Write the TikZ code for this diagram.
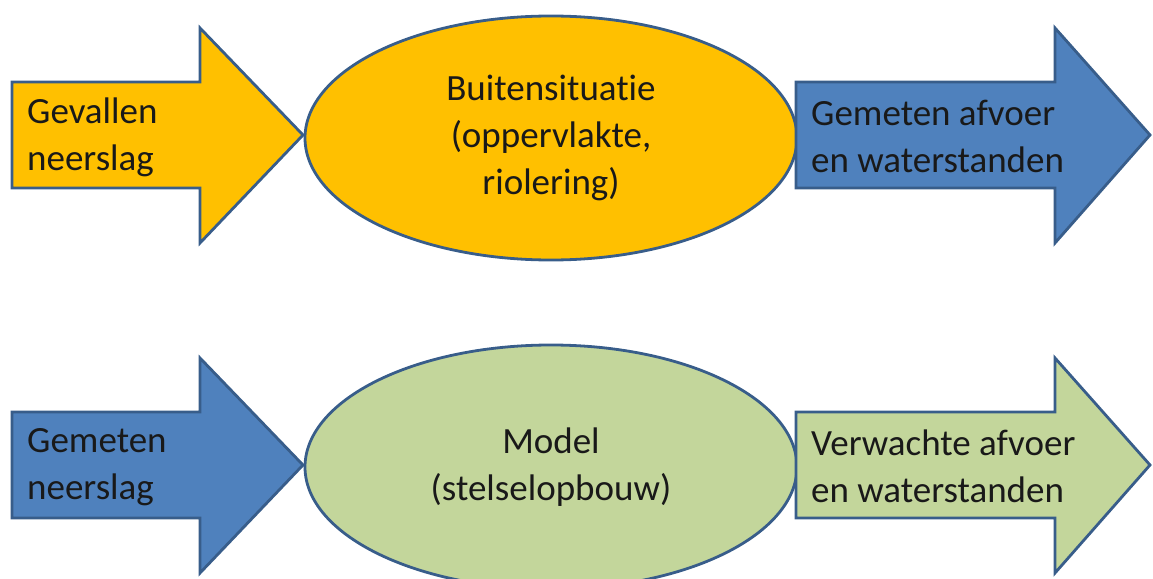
\documentclass[tikz,border=0pt]{standalone}
\usepackage{fontspec}
\setmainfont{Carlito}[RawFeature=-liga]
\usetikzlibrary{shapes.geometric}

\definecolor{edgeblue}{HTML}{385D8A}
\definecolor{fillyellow}{HTML}{FFC000}
\definecolor{fillblue}{HTML}{4F81BD}
\definecolor{fillgreen}{HTML}{C3D69B}

\begin{document}
\begin{tikzpicture}[x=1pt, y=-1pt,
    flow/.style={draw=edgeblue, line width=2.8pt, line join=miter},
    stage/.style={ellipse, flow, minimum width=492pt, minimum height=244pt,
      inner sep=0pt, align=center, font=\fontsize{37}{47}\selectfont},
    label/.style={anchor=west, inner sep=0pt, align=left,
      font=\fontsize{37}{47}\selectfont}]
\useasboundingbox (0,0) rectangle (1153,578);
\tikzset{every node/.append style={text=black!90}}
% top row: werkelijkheid
\draw[flow, fill=fillyellow] (12,82) -- (200,82) -- (200,28) -- (303,135)
  -- (200,243) -- (200,188) -- (12,188) -- cycle;
\node[label] (rainobs) at (27,137) {Gevallen\\neerslag};
\node[stage, fill=fillyellow] (field) at (551,138)
  {Buitensituatie\\(oppervlakte,\\riolering)};
\draw[flow, fill=fillblue] (796,82) -- (1055,82) -- (1055,28) -- (1150,135)
  -- (1055,243) -- (1055,188) -- (796,188) -- cycle;
\node[label] (flowobs) at (811,136) {Gemeten afvoer\\en waterstanden};
% bottom row: model
\begin{scope}[yshift=-330pt]
\draw[flow, fill=fillblue] (12,82) -- (200,82) -- (200,28) -- (303,135)
  -- (200,243) -- (200,188) -- (12,188) -- cycle;
\node[label] (rainin) at (27,137) {Gemeten\\neerslag};
\node[stage, fill=fillgreen] (model) at (551,137) {Model\\(stelselopbouw)};
\draw[flow, fill=fillgreen] (796,82) -- (1055,82) -- (1055,28) -- (1150,135)
  -- (1055,243) -- (1055,188) -- (796,188) -- cycle;
\node[label] (flowsim) at (811,136) {Verwachte afvoer\\en waterstanden};
\end{scope}
\end{tikzpicture}
\end{document}
